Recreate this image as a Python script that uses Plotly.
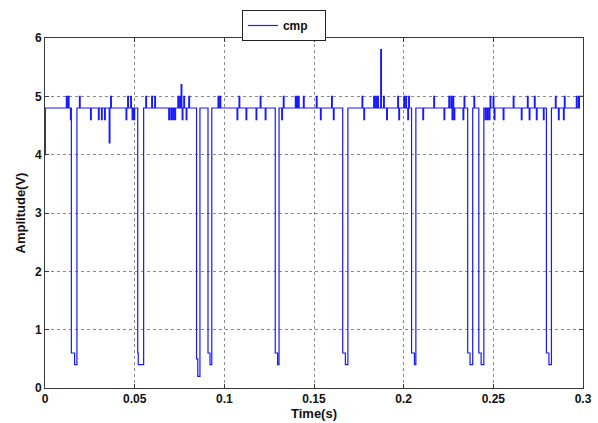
import plotly.graph_objects as go

# Comparator output: steady level with short glitches and deep dropouts
BASE = 4.8
START_LEVEL = 4.0
END_LEVEL = 5.0
END_START = 0.2980

# Short positive glitches (time in s, peak in V)
up_t = [0.0119, 0.0130, 0.0192, 0.0366, 0.0461, 0.0478, 0.0562, 0.0595, 0.0612,
        0.0741, 0.0752, 0.0759, 0.0774, 0.0802, 0.0965, 0.0976, 0.1082, 0.1200,
        0.1329, 0.1396, 0.1401, 0.1407, 0.1413, 0.1441, 0.1513, 0.1598, 0.1768,
        0.1833, 0.1844, 0.1855, 0.1872, 0.1888, 0.1967, 0.2001, 0.2012, 0.2028,
        0.2168, 0.2252, 0.2264, 0.2275, 0.2337, 0.2392, 0.2482, 0.2499, 0.2611,
        0.2690, 0.2729, 0.2846, 0.2896, 0.2963, 0.2975]
up_v = [5.0, 5.0, 5.0, 5.0, 5.0, 5.0, 5.0, 5.0, 5.0,
        5.0, 5.0, 5.2, 5.0, 5.0, 5.0, 5.0, 5.0, 5.0,
        5.0, 5.0, 5.0, 5.0, 5.0, 5.0, 5.0, 5.0, 5.0,
        5.0, 5.0, 5.0, 5.8, 5.0, 5.0, 5.0, 5.0, 5.0,
        5.0, 5.0, 5.0, 5.0, 5.0, 5.0, 5.0, 5.0, 5.0,
        5.0, 5.0, 5.0, 5.0, 5.0, 5.0]

# Short negative glitches (time in s, trough in V)
down_t = [0.0142, 0.0254, 0.0298, 0.0315, 0.0332, 0.0358, 0.0452, 0.0486, 0.0496,
          0.0690, 0.0702, 0.0713, 0.0724, 0.0765, 0.0787, 0.1071, 0.1121, 0.1177,
          0.1228, 0.1320, 0.1536, 0.1608, 0.1778, 0.1905, 0.1973, 0.2023, 0.2107,
          0.2225, 0.2270, 0.2281, 0.2331, 0.2455, 0.2466, 0.2477, 0.2505, 0.2555,
          0.2656, 0.2700, 0.2740, 0.2779, 0.2863, 0.2891]
down_v = [4.6, 4.6, 4.6, 4.6, 4.6, 4.2, 4.6, 4.6, 4.6,
          4.6, 4.6, 4.6, 4.6, 4.6, 4.6, 4.6, 4.6, 4.6,
          4.6, 4.6, 4.6, 4.6, 4.6, 4.6, 4.6, 4.6, 4.6,
          4.6, 4.6, 4.6, 4.6, 4.6, 4.6, 4.6, 4.6, 4.6,
          4.6, 4.6, 4.6, 4.6, 4.6, 4.6]

# Dropouts: fall to a shelf, then to a floor, then recover
dip_start = [0.0147, 0.0517, 0.0845, 0.0909, 0.1284, 0.1660, 0.2044, 0.2357, 0.2419, 0.2796]
dip_mid = [0.0165, 0.0520, 0.0852, 0.0920, 0.1297, 0.1675, 0.2060, 0.2370, 0.2432, 0.2810]
dip_end = [0.0178, 0.0550, 0.0864, 0.0930, 0.1305, 0.1689, 0.2068, 0.2385, 0.2447, 0.2824]
dip_shelf = [0.6, 0.6, 0.5, 0.6, 0.6, 0.6, 0.6, 0.6, 0.6, 0.6]
dip_floor = [0.4, 0.4, 0.2, 0.4, 0.4, 0.4, 0.4, 0.4, 0.4, 0.4]

GLITCH_W = 0.0004

# Assemble the step waveform (vertical edges via repeated time stamps)
events = []
for t, v in zip(up_t + down_t, up_v + down_v):
    events.append((t, [(t, BASE), (t, v), (t + GLITCH_W, v), (t + GLITCH_W, BASE)]))
for a, m, b, s, f in zip(dip_start, dip_mid, dip_end, dip_shelf, dip_floor):
    events.append((a, [(a, BASE), (a, s), (m, s), (m, f), (b, f), (b, BASE)]))
events.sort(key=lambda e: e[0])

xs = [0.0, 0.0002, 0.0002]
ys = [START_LEVEL, START_LEVEL, BASE]
for _, seg in events:
    for t, v in seg:
        xs.append(t)
        ys.append(v)
xs += [END_START, END_START, 0.3]
ys += [BASE, END_LEVEL, END_LEVEL]

fig = go.Figure()
fig.add_trace(go.Scatter(x=xs, y=ys, mode="lines", name="cmp",
                         line=dict(color="rgb(25,25,255)", width=1.2)))

FAMILY = "Liberation Sans, Arial, sans-serif"
font_main = dict(family=FAMILY, size=12, color="#111111", weight="bold")
font_title = dict(family=FAMILY, size=13, color="#111111", weight="bold")

axis_common = dict(
    showline=True, linecolor="#3a3a3a", linewidth=1, mirror="ticks",
    ticks="inside", ticklen=4, tickcolor="#3a3a3a",
    showgrid=True, gridcolor="#8a8a8a", griddash="dot", gridwidth=1,
    zeroline=False, tickfont=font_main, automargin=False,
)

fig.update_layout(
    width=598, height=423,
    margin=dict(l=45, r=15, t=38, b=35, autoexpand=False),
    paper_bgcolor="white", plot_bgcolor="white",
    font=font_main,
    showlegend=True,
    legend=dict(x=0.366, y=1.08, xanchor="left", yanchor="top",
                orientation="h", entrywidth=37,
                bordercolor="#222222", borderwidth=1, bgcolor="white",
                font=dict(family=FAMILY, size=12, color="#111111", weight="bold")),
    xaxis=dict(axis_common, range=[0, 0.3],
               tickvals=[0, 0.05, 0.1, 0.15, 0.2, 0.25, 0.3],
               ticktext=["0", "0.05", "0.1", "0.15", "0.2", "0.25", "0.3"],
               title=dict(text="Time(s)", standoff=3, font=font_title)),
    yaxis=dict(axis_common, range=[0, 6], tickvals=[0, 1, 2, 3, 4, 5, 6],
               ticktext=["0", "1", "2", "3", "4", "5", "6"],
               title=dict(text="Amplitude(V)", standoff=6, font=font_title)),
)

fig.write_html("out.html")
